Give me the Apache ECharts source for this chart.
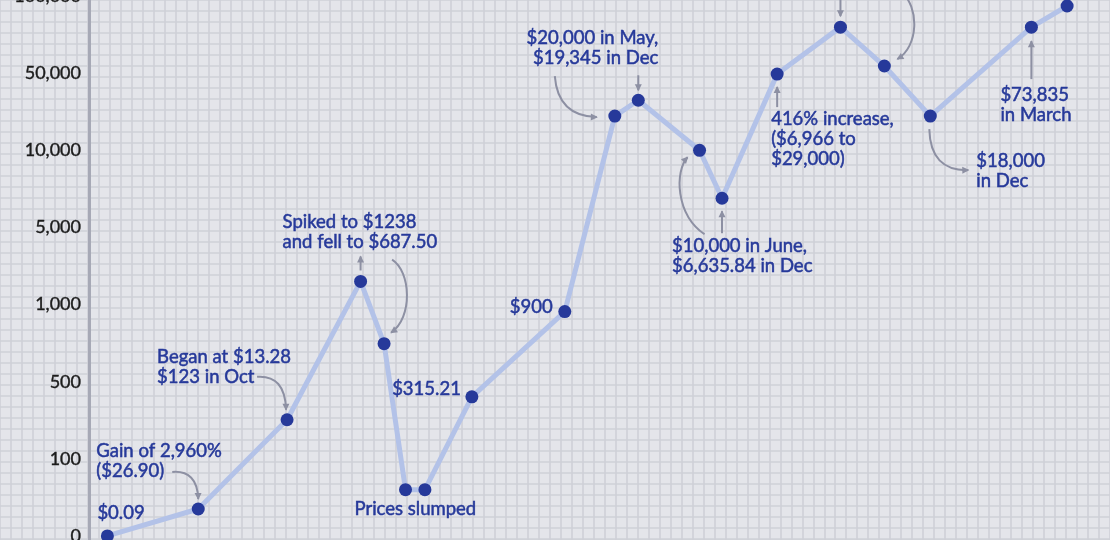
<!DOCTYPE html>
<html>
<head>
<meta charset="utf-8">
<script src="https://cdn.jsdelivr.net/npm/echarts@6/dist/echarts.min.js"></script>
<style>
html,body{margin:0;padding:0;background:#e4e5ea;}
#c{width:1110px;height:540px;}
</style>
</head>
<body>
<div id="c"></div>
<script>
// ---- data ----
// timeline position of each point (0..100 along the horizontal extent)
const timePos = [1.8, 10.7, 19.4, 26.6, 28.9, 31.0, 32.9, 37.5, 46.6, 51.5, 53.8, 59.8, 62.0, 67.4, 73.6, 77.9, 82.4, 92.3, 95.8];
// Bitcoin price (USD) at each point, as placed on the chart
const prices = [0.09, 35, 226, 1620, 704, 60, 60, 365, 939, 20400, 28400, 10000, 6500, 49000, 75600, 53300, 20400, 75600, 91400];
// y-axis tick values (equally spaced on the chart) and their labels
const tickValues = [0, 100, 500, 1000, 5000, 10000, 50000, 100000];
const tickLabels = ['0', '100', '500', '1,000', '5,000', '10,000', '50,000', '100,000'];

// annotation texts, attached to point indexes
const notes = [
  {p: 0, text: '$0.09', align: 'left', dx: -10, dy: -22},
  {p: 1, text: 'Gain of 2,960%\n($26.90)', align: 'left', dx: -102, dy: -57},
  {p: 2, text: 'Began at $13.28\n$123 in Oct', align: 'left', dx: -130, dy: -62},
  {p: 3, text: 'Spiked to $1238\nand fell to $687.50', align: 'left', dx: -78, dy: -58},
  {p: 5, text: 'Prices slumped', align: 'left', dx: -51, dy: 20},
  {p: 7, text: '$315.21', align: 'right', dx: -11, dy: -7},
  {p: 8, text: '$900', align: 'right', dx: -12, dy: -4},
  {p: 10, text: '$20,000 in May,\n$19,345 in Dec', align: 'right', dx: 20, dy: -61},
  {p: 12, text: '$10,000 in June,\n$6,635.84 in Dec', align: 'left', dx: -50, dy: 49},
  {p: 13, text: '416% increase,\n($6,966 to\n$29,000)', align: 'left', dx: -6, dy: 46},
  {p: 16, text: '$18,000\nin Dec', align: 'left', dx: 46, dy: 46},
  {p: 17, text: '$73,835\nin March', align: 'left', dx: -31, dy: 69}
];
// arrows: offsets (px) relative to their point
const arrows = [
  {p: 1, pts: [[-26,-37],[-1,-39],[0,-10]]},
  {p: 2, pts: [[-30,-43],[-2,-45],[-1,-10]]},
  {p: 3, pts: [[0,-11],[0,-25]]},
  {p: 4, pts: [[8,-84],[27,-72],[29,-26],[7,-11]]},
  {p: 9, pts: [[-60,-40],[-57,0],[-18,1]]},
  {p: 10, pts: [[0,-25],[0,-10]]},
  {p: 11, pts: [[5,84],[-24,64],[-25,21],[-12,7]]},
  {p: 12, pts: [[0,35],[0,13]]},
  {p: 13, pts: [[0,33],[0,13]]},
  {p: 14, pts: [[0,-30],[0,-11]]},
  {p: 15, pts: [[16,-75],[36,-59],[34,-19],[13,-7]]},
  {p: 16, pts: [[-1,13],[0,55],[38,54]]},
  {p: 17, pts: [[0,52],[0,14]]}
];

// piecewise scale: equal spacing between tick values (linear in first segment, log elsewhere)
function toAxis(v) {
  for (let i = 0; i < tickValues.length - 1; i++) {
    const a = tickValues[i], b = tickValues[i + 1];
    if (v <= b || i === tickValues.length - 2) {
      if (a === 0) return v / b;
      return i + Math.log(v / a) / Math.log(b / a);
    }
  }
}

const NAVY = '#26399a';
const LINE = '#b3c2e8';
const ARROW = '#8d90a3';
const FONT = 'Lato';

const chart = echarts.init(document.getElementById('c'), null, {renderer: 'canvas'});
const seriesData = timePos.map((x, i) => [x, toAxis(prices[i])]);

chart.setOption({
  backgroundColor: '#e4e5ea',
  animation: false,
  grid: [
    {left: 0, right: 0, top: 0, bottom: 0, show: false, outerBoundsMode: 'none', containLabel: false},
    {left: 89, right: 0, top: -4, bottom: 0, show: false, outerBoundsMode: 'none', containLabel: false}
  ],
  xAxis: [
    {gridIndex: 0, type: 'value', min: 0, max: 1111, interval: 11, axisLine: {show: false}, axisTick: {show: false}, axisLabel: {show: false},
     splitLine: {show: true, lineStyle: {color: '#cfd0d7', width: 1.6}}},
    {gridIndex: 1, type: 'value', min: 0, max: 100, show: false}
  ],
  yAxis: [
    {gridIndex: 0, type: 'value', min: 0, max: 540, interval: 11, inverse: true, axisLine: {show: false}, axisTick: {show: false}, axisLabel: {show: false},
     splitLine: {show: true, lineStyle: {color: '#cfd0d7', width: 1.6}}},
    {gridIndex: 1, type: 'value', min: -4 / 77, max: 7,
     axisLine: {show: true, onZero: false, lineStyle: {color: '#a7a9b6', width: 3}},
     axisTick: {show: false},
     splitLine: {show: false},
     axisLabel: {
       show: true,
       customValues: tickValues.map((v, i) => i),
       formatter: (v) => tickLabels[Math.round(v)],
       color: '#1c1c1c', fontFamily: FONT, fontSize: 18, margin: 8,
       textBorderColor: '#1c1c1c', textBorderWidth: 0.4
     }}
  ],
  series: [
    {type: 'scatter', xAxisIndex: 0, yAxisIndex: 0, data: [], silent: true},
    {
      type: 'line', xAxisIndex: 1, yAxisIndex: 1,
      data: seriesData,
      lineStyle: {color: LINE, width: 5},
      symbol: 'circle', symbolSize: 13,
      itemStyle: {color: NAVY},
      z: 3
    }
  ]
});

const graphics = [];
function px(i) {
  return chart.convertToPixel({xAxisIndex: 1, yAxisIndex: 1}, seriesData[i]);
}
notes.forEach(n => {
  const [x, y] = px(n.p);
  graphics.push({
    type: 'text', x: x + n.dx, y: y + n.dy - 11, z: 10,
    style: {text: n.text, fill: NAVY, stroke: NAVY, lineWidth: 0.5, font: '18.5px ' + FONT, align: n.align, verticalAlign: 'top', lineHeight: 20}
  });
});
arrows.forEach(a => {
  const [x, y] = px(a.p);
  const P = a.pts.map(q => [x + q[0], y + q[1]]);
  const lineStyle = {stroke: ARROW, lineWidth: 2, fill: null};
  if (P.length === 2) {
    graphics.push({type: 'line', z: 10, shape: {x1: P[0][0], y1: P[0][1], x2: P[1][0], y2: P[1][1]}, style: lineStyle});
  } else if (P.length === 3) {
    graphics.push({type: 'bezierCurve', z: 10, shape: {x1: P[0][0], y1: P[0][1], cpx1: P[1][0], cpy1: P[1][1], x2: P[2][0], y2: P[2][1]}, style: lineStyle});
  } else {
    graphics.push({type: 'bezierCurve', z: 10, shape: {x1: P[0][0], y1: P[0][1], cpx1: P[1][0], cpy1: P[1][1], cpx2: P[2][0], cpy2: P[2][1], x2: P[3][0], y2: P[3][1]}, style: lineStyle});
  }
  const e = P[P.length - 1], c = P[P.length - 2];
  let vx = e[0] - c[0], vy = e[1] - c[1];
  const L = Math.hypot(vx, vy) || 1; vx /= L; vy /= L;
  const hl = 6, hw = 3.5;
  const bx = e[0] - vx * hl, by = e[1] - vy * hl;
  graphics.push({type: 'polygon', z: 10, shape: {points: [[e[0] + vx, e[1] + vy], [bx - vy * hw, by + vx * hw], [bx + vy * hw, by - vx * hw]]}, style: {fill: ARROW}});
});
chart.setOption({graphic: graphics});
</script>
</body>
</html>
